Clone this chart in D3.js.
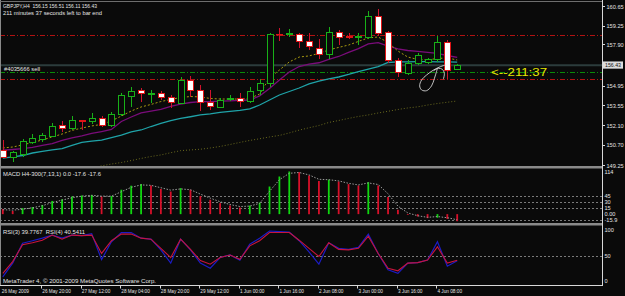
<!DOCTYPE html>
<html>
<head>
<meta charset="utf-8">
<script src="https://d3js.org/d3.v7.min.js"></script>
<style>
  body { margin: 0; background: #0a0a0a; overflow: hidden; }
  svg { display: block; }
  text { font-family: "Liberation Sans", Arial, sans-serif; font-size: 5.6px; fill: #e4e4e4; white-space: pre; }
</style>
</head>
<body>
<svg id="chart" width="625" height="296"></svg>
<script>
// GBPJPY H4 candles, 26 May 04:00 .. 4 Jun 16:00
var open  = [150.33,149.83,150.09,150.92,151.10,151.35,152.12,151.93,152.48,152.43,152.60,152.12,152.89,154.22,154.63,154.34,154.44,154.15,153.72,155.35,154.63,153.79,153.43,153.96,154.03,153.86,154.58,155.11,158.64,158.64,158.64,158.12,157.66,157.21,158.79,158.50,158.41,158.45,159.93,158.76,156.78,155.87,156.57,156.64,156.83,158.05,156.15]
var high  = [151.04,150.25,151.12,151.47,151.52,152.29,152.43,152.76,152.50,152.98,152.76,153.07,154.41,154.87,154.75,154.63,154.58,154.27,155.56,155.63,154.99,154.63,154.06,154.27,154.39,154.87,155.42,158.71,159.05,158.98,158.69,158.71,158.26,159.12,158.93,158.74,158.69,160.29,160.41,158.88,156.90,156.78,157.30,156.92,158.52,158.21,156.51]
var low   = [149.76,149.49,149.83,150.76,150.92,151.26,151.64,151.76,151.76,152.19,152.00,152.00,152.76,153.43,153.79,153.72,153.91,153.32,153.70,154.15,153.15,153.20,153.32,153.86,153.39,153.68,154.27,154.82,158.16,158.45,157.62,157.50,156.83,156.83,157.85,158.26,157.85,158.26,158.50,156.54,155.58,155.70,156.40,156.50,156.66,155.40,156.11]
var close = [149.83,150.17,151.00,151.19,151.40,152.07,151.93,152.48,152.41,152.62,152.12,152.91,154.27,154.56,154.44,154.44,154.15,153.79,155.37,154.63,153.79,153.48,153.91,154.03,153.84,154.56,155.11,158.64,158.61,158.69,158.16,157.73,157.21,158.81,158.45,158.46,158.50,159.93,158.74,156.73,155.94,156.59,157.14,156.83,158.05,156.06,156.43]

// moving averages on the price chart
var maFast = [150.47,150.54,150.69,150.87,151.04,151.26,151.47,151.73,151.90,152.05,152.16,152.41,152.76,153.12,153.41,153.59,153.80,153.95,154.09,154.16,154.13,154.02,153.98,153.98,153.98,154.02,154.34,155.49,156.06,156.64,156.99,157.07,157.25,157.50,157.68,157.85,158.11,158.36,158.43,158.03,157.42,156.99,156.82,156.78,156.89,156.92,156.78]
var maMid  = [150.31,150.36,150.42,150.51,150.65,150.79,151.01,151.19,151.33,151.51,151.65,151.80,152.37,152.69,152.98,153.12,153.23,153.45,153.62,153.73,153.79,153.80,153.83,153.85,153.88,153.91,154.20,154.74,155.35,155.92,156.31,156.49,156.58,156.82,157.03,157.32,157.59,157.93,158.02,157.78,157.57,157.46,157.39,157.32,157.25,157.10,156.97]
var maSlow = [149.75,149.83,149.93,150.11,150.22,150.33,150.43,150.65,150.87,150.96,151.04,151.22,151.40,151.62,151.76,152.01,152.23,152.44,152.59,152.71,152.84,152.91,153.02,153.09,153.16,153.27,153.55,153.91,154.27,154.52,154.77,155.06,155.27,155.42,155.56,155.74,155.95,156.13,156.30,156.60,156.64,156.65,156.66,156.66,156.65,156.64,156.62]
var maLong = [null,null,null,null,null,null,null,null,null,149.04,149.19,149.32,149.43,149.57,149.72,149.86,149.97,150.13,150.28,150.33,150.38,150.47,150.58,150.72,150.87,151.01,151.13,151.26,151.37,151.55,151.75,151.92,152.08,152.30,152.44,152.59,152.73,152.84,152.98,153.10,153.23,153.34,153.42,153.55,153.66,153.75,153.84]

// MACD H4-300(7,13,1)
var macdHist   = [13,8,15,17.5,23,33,37,44,46.5,48,44,45,61,71,75,71.5,63,56.5,65,61,45,36,27.5,21.5,16.5,21.5,29,69,94,106.5,105,96.5,83,86,81.5,75,71.5,80,71.5,42.5,10.7,-2,-6,-10,-9,-12,-17.6]
var macdSignal = [11,10,12,16,21,29,35,41,45,47,45,45,56,67,73,72,66,60,63,61,50,40,31,24,19,20,27,57,86,102,104,98,87,86,83,77,73,78,74,51,20,3,-4,-8,-6,-9,-14]

// RSI(3) and RSI(4)
var rsi3 = [8,35,74,79,84,90,84,90,89,93,42,77,95,95,84,82,61,35,82,61,35,25,46,51,41,72,84,98,97,96,79,57,33,75,64,62,66,92,54,22,15,35,36,41,77,29,39.78]
var rsi4 = [15,38,71,75,80,90,82,90,89,90,54,79,92,92,84,82,64,46,82,62,40,33,46,51,42.5,69,79,95,95,95,80,64,48,75,62,61,64,88,54,25,20,35,36,41,67,35,40.54]

// axes and levels
var priceTicks = [160.65,159.25,157.90,154.95,153.55,152.10,150.70,149.25]
var bidPrice = 156.43
var stopLevel = 158.59
var orderLevel = 155.92
var targetLevel = 155.40
var macdTicks = [114,45,30,15,0,-15.9]
var macdLevels = [45,30,15,-15]
var rsiTicks = [100,50,0]
var timeLabels = ['26 May 2009','26 May 20:00','27 May 12:00','28 May 04:00','28 May 20:00','29 May 12:00','1 Jun 00:00','1 Jun 16:00','2 Jun 08:00','3 Jun 00:00','3 Jun 16:00','4 Jun 08:00']
var timeBars = [0,4,8,12,16,20,24,28,32,36,40,44]

// hand drawn scribble near the last bars (bar index, price)
var scribbleA = [[44.8,156.42],[44.3,156.30],[43.6,156.06],[42.9,155.70],[42.4,155.35],[42.2,154.92],[42.4,154.63],[42.9,154.58],[43.4,154.92],[43.7,155.47],[43.9,155.94],[44.0,156.18]]
var scribbleB = [[43.6,156.01],[44.1,156.18],[44.5,156.11],[44.7,155.83],[44.6,155.40]]

var svg = d3.select('#chart')
var axisX = 602

var x  = d3.scaleLinear().domain([0, 46]).range([2.8, 457.2])
var yP = d3.scaleLinear().domain([149.25, 160.65]).range([165, 6])
var yM = d3.scaleLinear().domain([-15.9, 114]).range([220.5, 168.5])
var yR = d3.scaleLinear().domain([0, 100]).range([281, 230])

var px = i => Math.round(x(i)) + 0.5

function fit(sel, w){
  return sel.attr('textLength', w).attr('lengthAdjust', 'spacingAndGlyphs')
}

svg.append('rect').attr('width', 625).attr('height', 296).attr('fill', '#0a0a0a')

var defs = svg.append('defs')
defs.append('clipPath').attr('id', 'clipMain')
  .append('rect').attr('x', 1).attr('y', 2).attr('width', axisX - 1).attr('height', 164)

// ---------- main price window ----------
var main = svg.append('g').attr('clip-path', 'url(#clipMain)')

// bid line
main.append('line')
  .attr('x1', 0).attr('x2', axisX)
  .attr('y1', yP(bidPrice) + 0.5).attr('y2', yP(bidPrice) + 0.5)
  .attr('stroke', '#2c3c3c').attr('stroke-width', 2)

// order / stop / target lines
;[[stopLevel, '#b01212'], [targetLevel, '#b01212'], [orderLevel, '#0a8a0a']].forEach(d => {
  var yy = Math.round(yP(d[0])) + 0.5
  main.append('line')
    .attr('x1', 0).attr('x2', axisX).attr('y1', yy).attr('y2', yy)
    .attr('stroke', d[1]).attr('stroke-dasharray', '5,2,1,2')
})

var line = arr => d3.line()
  .defined(d => d != null)
  .x((d, i) => x(i))
  .y(d => yP(d))(arr)

main.append('path').attr('d', line(maLong))
  .attr('fill', 'none').attr('stroke', '#6a6a1e').attr('stroke-dasharray', '1,2')
main.append('path').attr('d', line(maSlow))
  .attr('fill', 'none').attr('stroke', '#1fa3a8').attr('stroke-width', 1.3)
main.append('path').attr('d', line(maMid))
  .attr('fill', 'none').attr('stroke', '#7a0c7a').attr('stroke-width', 1.3)
main.append('path').attr('d', line(maFast))
  .attr('fill', 'none').attr('stroke', '#a89a10').attr('stroke-dasharray', '2,2')

// candles
var bars = open.map((o, i) => ({i: i, o: o, h: high[i], l: low[i], c: close[i]}))
var isUp = d => d.c >= d.o

main.append('g').selectAll('line').data(bars).join('line')
  .attr('x1', d => px(d.i)).attr('x2', d => px(d.i))
  .attr('y1', d => Math.round(yP(d.h))).attr('y2', d => Math.round(yP(d.l)))
  .attr('stroke', d => isUp(d) ? '#18b018' : '#d0122c')

main.append('g').selectAll('rect').data(bars).join('rect')
  .attr('x', d => px(d.i) - 3)
  .attr('y', d => Math.round(yP(Math.max(d.o, d.c))) + 0.5)
  .attr('width', 6)
  .attr('height', d => Math.max(0.5, Math.round(Math.abs(yP(d.o) - yP(d.c)))))
  .attr('fill', d => isUp(d) ? '#0a0a0a' : '#ffffff')
  .attr('stroke', d => isUp(d) ? '#18b018' : '#e01416')

// scribble
var scr = d3.line().x(d => x(d[0])).y(d => yP(d[1])).curve(d3.curveCatmullRom)
;[scribbleA, scribbleB].forEach(s => {
  main.append('path').attr('d', scr(s))
    .attr('fill', 'none').attr('stroke', '#d4d4d4').attr('stroke-width', 0.9)
})

// texts in main window
var lastI = open.length - 1
fit(svg.append('text').attr('x', 3).attr('y', 7.5)
  .text('GBPJPY,H4  ' + [open[lastI], high[lastI], low[lastI], close[lastI]].map(v => v.toFixed(2)).join(' ')), 94)
fit(svg.append('text').attr('x', 3).attr('y', 14.6)
  .text('211 minutes 37 seconds left to bar end'), 99)
fit(svg.append('text').attr('x', 4).attr('y', yP(orderLevel) - 1.2)
  .text('#4035666 sell'), 36)
fit(svg.append('text').attr('x', 491).attr('y', yP(orderLevel) + 4.4)
  .style('font-size', '10px').style('fill', '#e6e600')
  .text('<--211:37'), 56)

// ---------- MACD window ----------
var macdG = svg.append('g')
macdLevels.forEach(v => {
  macdG.append('line')
    .attr('x1', 0).attr('x2', axisX)
    .attr('y1', Math.round(yM(v)) + 0.5).attr('y2', Math.round(yM(v)) + 0.5)
    .attr('stroke', '#7a7a7a').attr('stroke-dasharray', '2,2')
})
macdG.selectAll('line.h').data(macdHist).join('line').attr('class', 'h')
  .attr('x1', (d, i) => x(i)).attr('x2', (d, i) => x(i))
  .attr('y1', yM(0)).attr('y2', d => yM(d))
  .attr('stroke', (d, i) => i > 0 && d > macdHist[i - 1] ? '#10d810' : '#d8102a')
  .attr('stroke-width', 1.8)
macdG.append('path')
  .attr('d', d3.line().x((d, i) => x(i)).y(d => yM(d))(macdSignal))
  .attr('fill', 'none').attr('stroke', '#9a9a9a').attr('stroke-dasharray', '1.5,1.5')
fit(svg.append('text').attr('x', 3).attr('y', 176)
  .text('MACD H4-300(7,13,1) 0.0 -17.6 -17.6'), 98)

// ---------- RSI window ----------
var rsiG = svg.append('g')
rsiG.append('line')
  .attr('x1', 0).attr('x2', axisX)
  .attr('y1', Math.round(yR(50)) + 0.5).attr('y2', Math.round(yR(50)) + 0.5)
  .attr('stroke', '#7a7a7a').attr('stroke-dasharray', '2,2')
var rline = d3.line().x((d, i) => x(i)).y(d => yR(d))
rsiG.append('path').attr('d', rline(rsi3))
  .attr('fill', 'none').attr('stroke', '#1c1cc4').attr('stroke-width', 1.2)
rsiG.append('path').attr('d', rline(rsi4))
  .attr('fill', 'none').attr('stroke', '#c8143c').attr('stroke-width', 1.1)
fit(svg.append('text').attr('x', 3).attr('y', 234)
  .text('RSI(3) 39.7767  RSI(4) 40.5411'), 82)
fit(svg.append('text').attr('x', 3).attr('y', 283)
  .text('MetaTrader 4, \u00a9 2001-2009 MetaQuotes Software Corp.'), 153)

// ---------- frame, separators ----------
;[166, 223].forEach(yy => {
  svg.append('rect').attr('x', 0).attr('y', yy).attr('width', axisX + 1).attr('height', 2.5)
    .attr('fill', '#8a8a8a')
})
svg.append('line').attr('x1', 0.5).attr('x2', 0.5).attr('y1', 0).attr('y2', 285).attr('stroke', '#8a8a8a')
svg.append('line').attr('x1', 0).attr('x2', axisX).attr('y1', 1.5).attr('y2', 1.5).attr('stroke', '#6e6e6e')
svg.append('line').attr('x1', axisX + 0.5).attr('x2', axisX + 0.5).attr('y1', 0).attr('y2', 286).attr('stroke', '#d8d8d8')
svg.append('line').attr('x1', 0).attr('x2', axisX + 1).attr('y1', 285.5).attr('y2', 285.5).attr('stroke', '#d8d8d8')

// price axis
var pAxis = svg.append('g')
priceTicks.forEach(v => {
  var yy = yP(v)
  pAxis.append('line').attr('x1', axisX).attr('x2', axisX + 3)
    .attr('y1', Math.round(yy) + 0.5).attr('y2', Math.round(yy) + 0.5).attr('stroke', '#d8d8d8')
  pAxis.append('text').attr('x', 606.5).attr('y', yy + 2.6).text(v.toFixed(2))
})
pAxis.append('rect').attr('x', 603).attr('y', yP(bidPrice) - 3.4).attr('width', 20).attr('height', 7.2)
  .attr('fill', '#dcdcdc')
fit(pAxis.append('text').attr('x', 605).attr('y', yP(bidPrice) + 2.6).style('fill', '#111')
  .text(bidPrice.toFixed(2)), 16)

// MACD axis
macdTicks.forEach(v => {
  var yy = Math.min(Math.max(yM(v) + 2.3, 174), 221.5)
  svg.append('text').attr('x', 604.5).attr('y', yy)
    .text(v === 0 ? '0.00' : String(v))
})

// RSI axis
rsiTicks.forEach(v => {
  svg.append('text').attr('x', 604.5).attr('y', yR(v) + 2.3).text(String(v))
})

// time axis
timeBars.forEach((b, k) => {
  if (k > 0) {
    svg.append('line').attr('x1', px(b) - 1).attr('x2', px(b) - 1)
      .attr('y1', 285).attr('y2', 288.5).attr('stroke', '#d8d8d8')
  }
  var t = svg.append('text').attr('x', x(b) + (k > 0 ? 0 : -1)).attr('y', 293.2).text(timeLabels[k])
  fit(t, t.node().getComputedTextLength() * 0.84)
})
</script>
</body>
</html>
